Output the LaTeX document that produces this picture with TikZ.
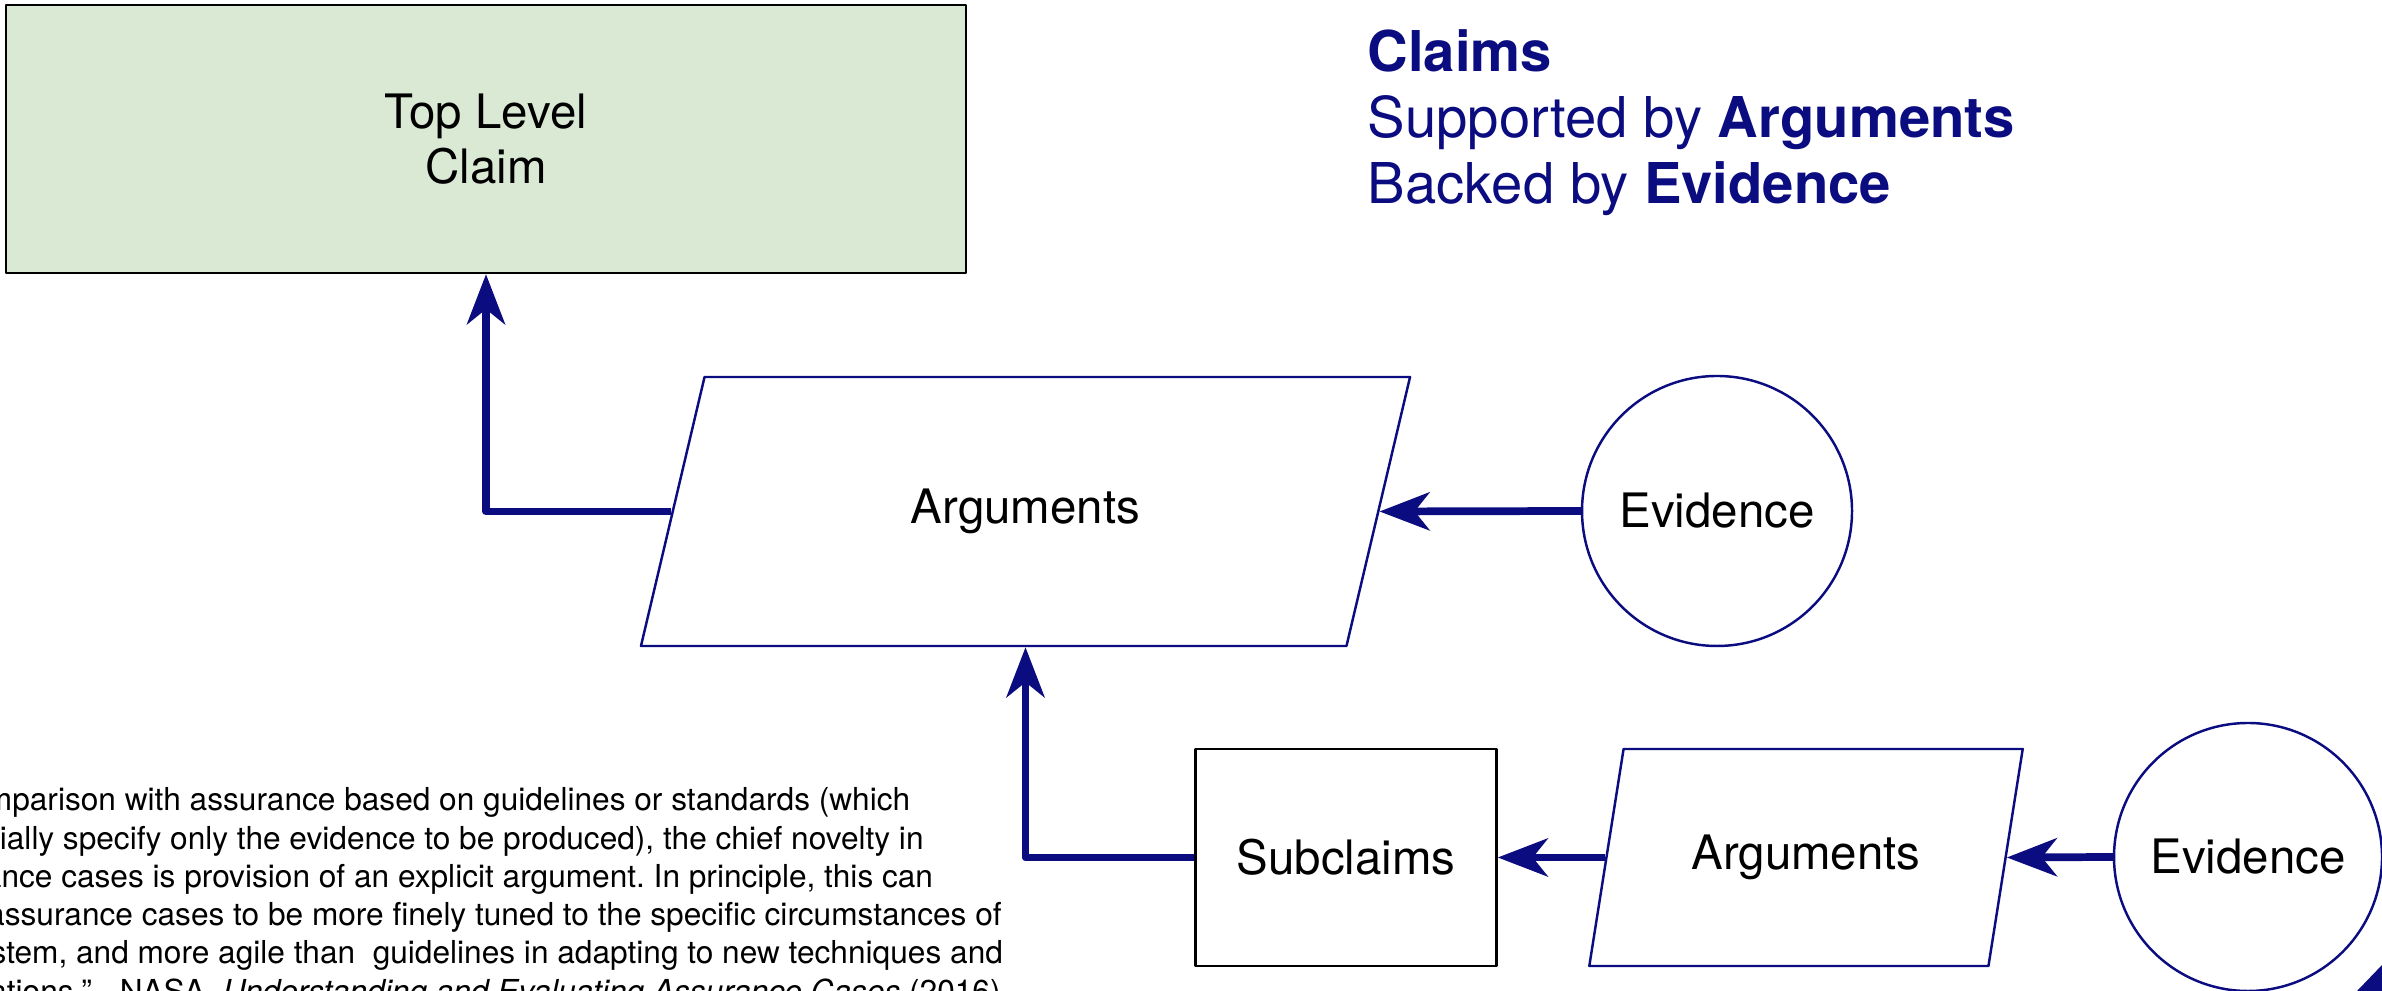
\documentclass[tikz,border=0pt]{standalone}
\usepackage{fontspec}
\setmainfont{TeX Gyre Heros}
\usepackage{tikz}
\usetikzlibrary{arrows.meta,shapes.geometric}
\definecolor{navy}{HTML}{0B0C80}
\definecolor{claimgreen}{HTML}{D9E9D4}
\frenchspacing

\begin{document}
\begin{tikzpicture}[x=1cm,y=1cm,line join=round,
  every node/.style={font=\fontsize{13.5}{15.6}\selectfont},
  claimbox/.style={draw=black,line width=0.7pt,inner sep=0pt,align=center},
  argbox/.style={draw=navy,line width=0.7pt,trapezium,trapezium stretches=true,inner sep=0pt},
  evbox/.style={draw=navy,line width=0.7pt,circle,inner sep=0pt},
  flow/.style={navy,line width=2.2pt,-{Stealth[length=5mm,width=3.8mm,inset=1.5mm]}}]
  \useasboundingbox (0,0) rectangle (23.82,9.91);
  \clip (0,0) rectangle (23.82,9.91);

  % claims, arguments, evidence
  \node[claimbox,fill=claimgreen,minimum width=9.60cm,minimum height=2.68cm] (top) at (4.86,8.52) {Top Level\\Claim};
  \node[argbox,trapezium left angle=63.2,trapezium right angle=116.8,minimum width=7.69cm,minimum height=2.69cm] (args1) at (10.255,4.795) {Arguments};
  \node[evbox,minimum size=2.70cm] (ev1) at (17.17,4.80) {Evidence};
  \node[claimbox,minimum width=3.01cm,minimum height=2.17cm] (sub) at (13.46,1.335) {Subclaims};
  \node[argbox,trapezium left angle=64.4,trapezium right angle=115.6,minimum width=4.34cm,minimum height=2.17cm] (args2) at (18.06,1.335) {Arguments};
  \node[evbox,minimum size=2.68cm] (ev2) at (22.48,1.34) {Evidence};

  \draw[flow] (args1.left side) -| (top.south);
  \draw[flow] (ev1.west) -- (args1.right side);
  \draw[flow] (sub.west) -| (args1.bottom side -| args1.center);
  \draw[flow] (args2.left side) -- (sub.east);
  \draw[flow] (ev2.west) -- (args2.right side);

  % legend
  \node[anchor=north west,align=left,text=navy,inner sep=0pt,font=\fontsize{16}{18.7}\selectfont] (legend) at (13.67,9.62)
    {\textbf{Claims}\\Supported by \textbf{Arguments}\\Backed by \textbf{Evidence}};

  % quote
  \node[anchor=north west,align=left,inner sep=0pt,font=\fontsize{9}{10.9}\selectfont] (quote) at (-0.94,2.04)
    {“In comparison with assurance based on guidelines or standards (which\\
     essentially specify only the evidence to be produced), the chief novelty in\\
     assurance cases is provision of an explicit argument. In principle, this can\\
     allow assurance cases to be more finely tuned to the specific circumstances of\\
     the system, and more agile than\ \ guidelines in adapting to new techniques and\\
     applications.” - NASA, \textit{Understanding and Evaluating Assurance Cases} (2016)};

  \fill[navy] (23.57,0) -- (23.82,0.26) -- (23.82,0) -- cycle;
\end{tikzpicture}
\end{document}
